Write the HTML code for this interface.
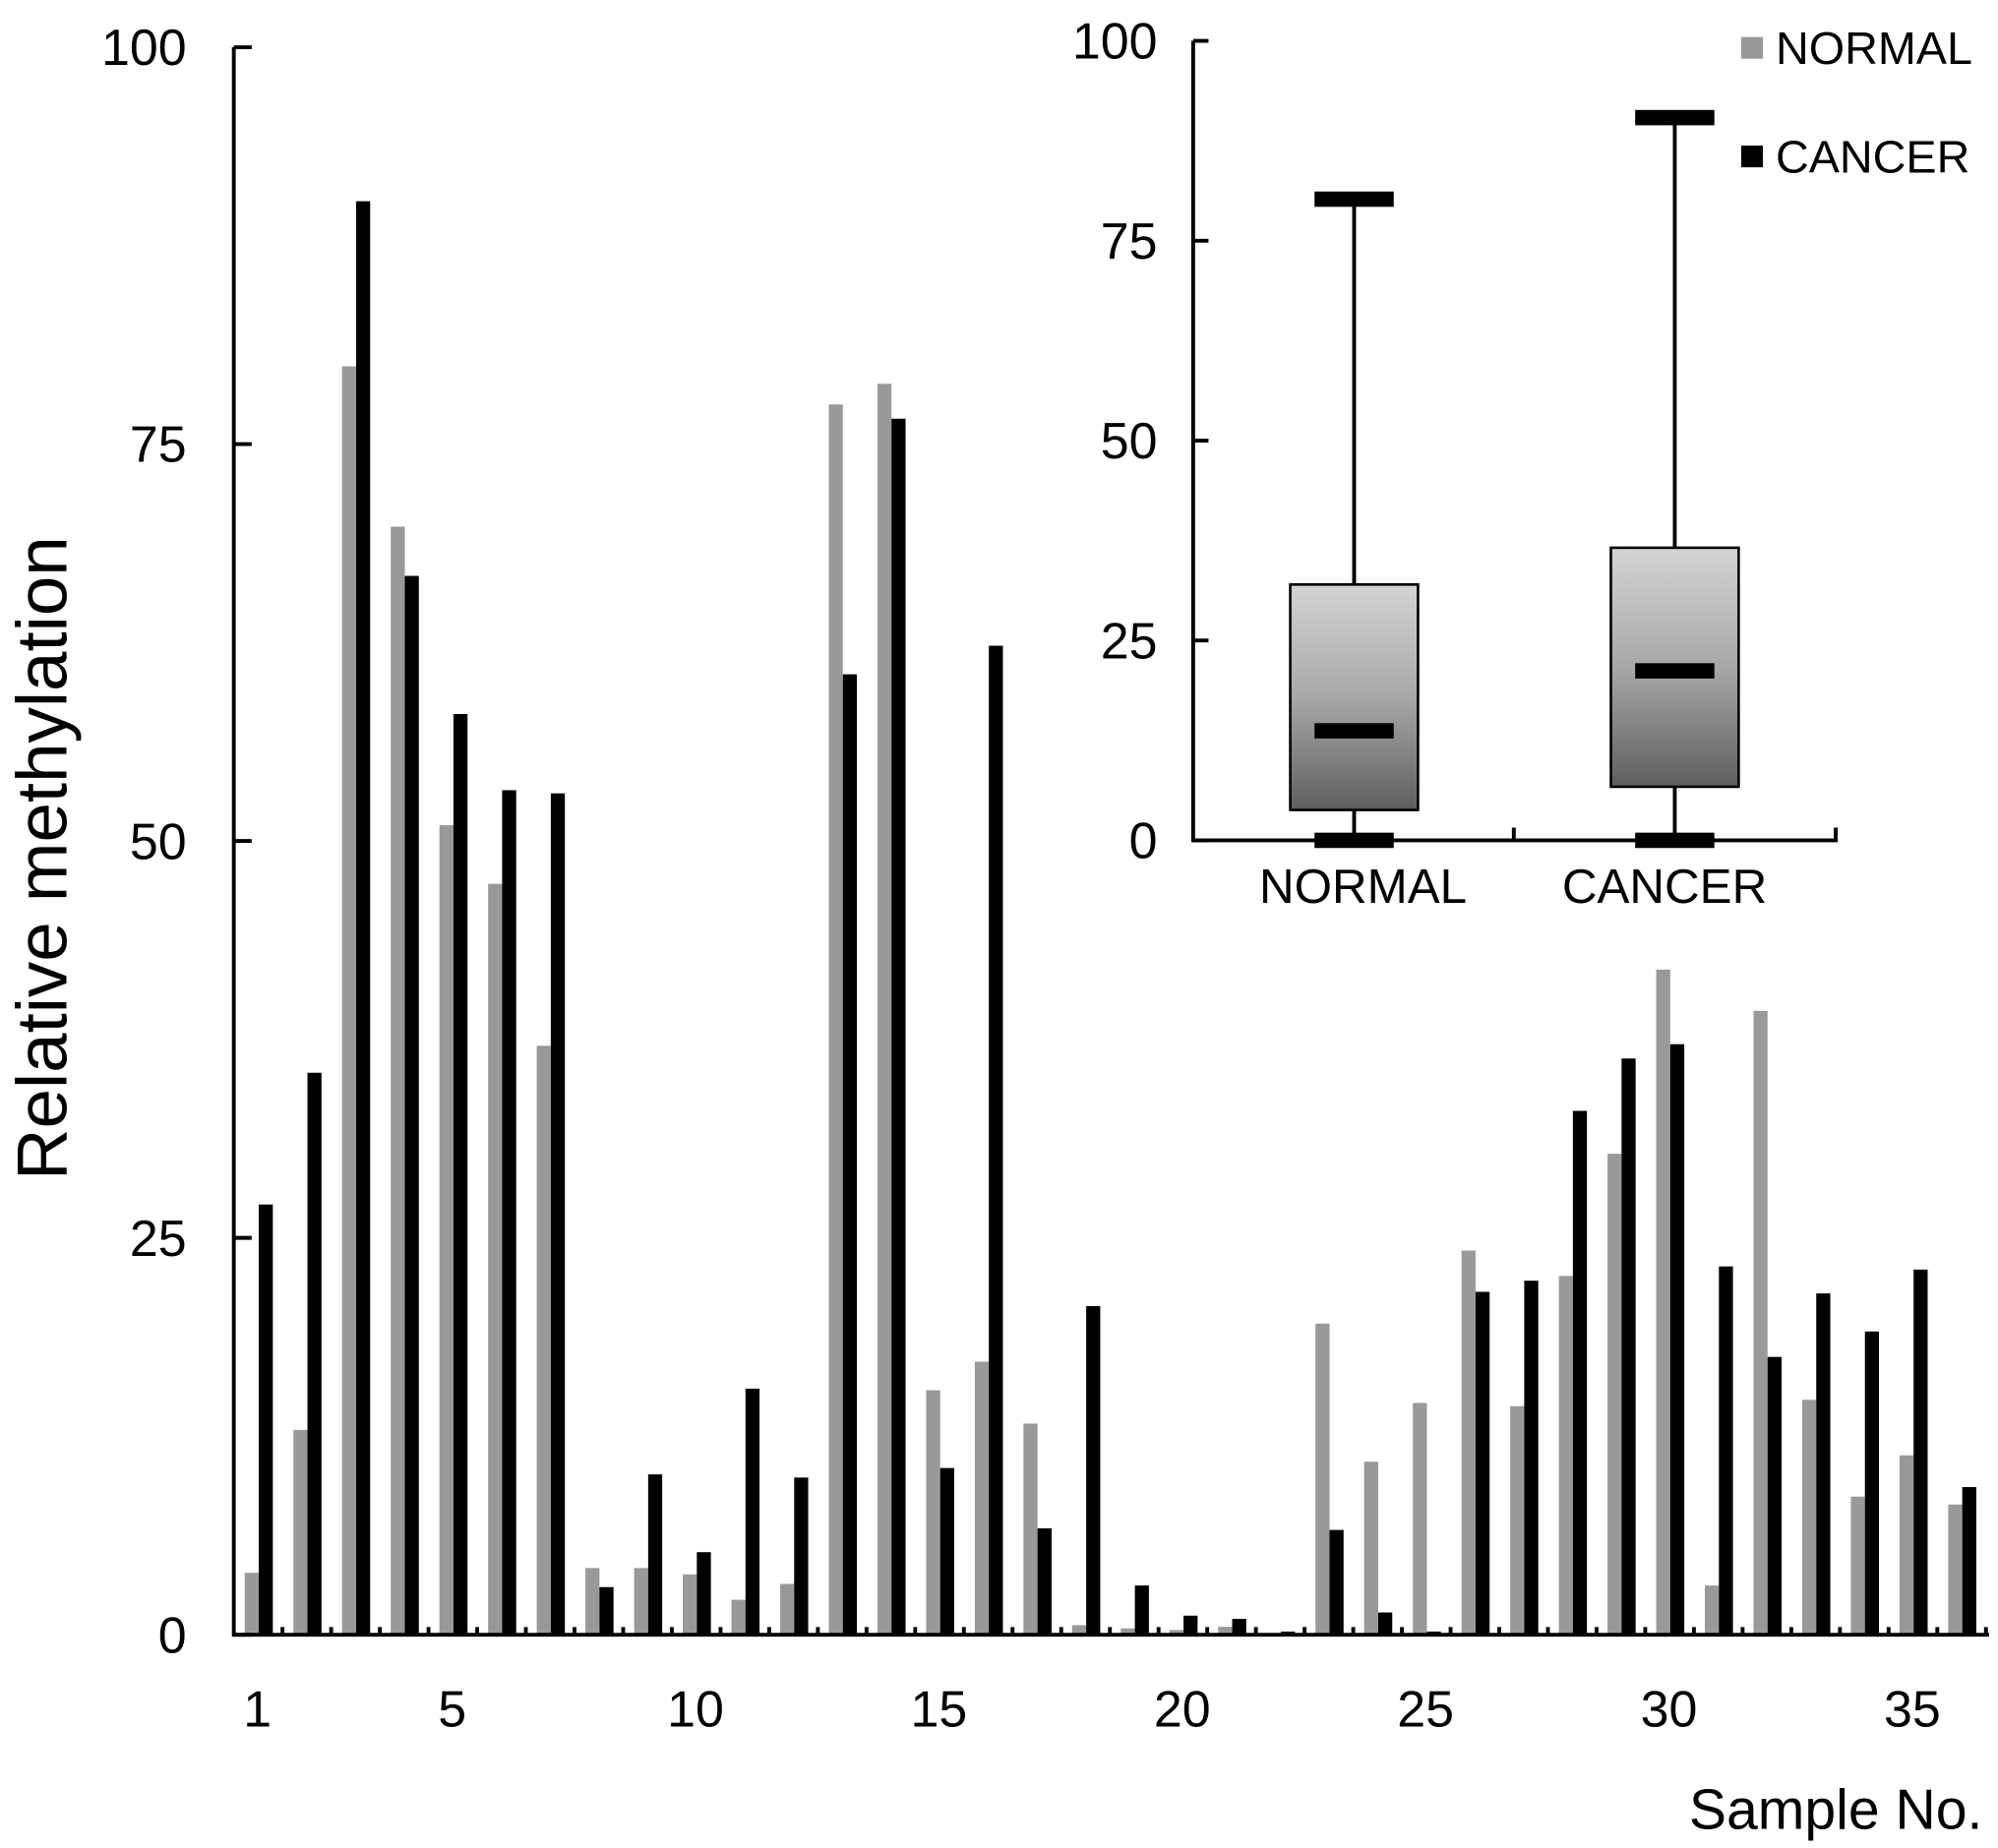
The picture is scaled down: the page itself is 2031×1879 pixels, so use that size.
<!DOCTYPE html>
<html><head><meta charset="utf-8"><style>html,body{margin:0;padding:0;background:#fff}svg{display:block}text{font-family:"Liberation Sans",Arial,sans-serif}</style></head>
<body>
<svg id="chart" width="2031" height="1879" viewBox="0 0 1564 1447" xmlns="http://www.w3.org/2000/svg">
<defs><linearGradient id="boxg" x1="0" y1="0" x2="0" y2="1"><stop offset="0" stop-color="#d4d4d4"/><stop offset="0.5" stop-color="#a8a8a8"/><stop offset="1" stop-color="#5e5e5e"/></linearGradient></defs>
<g id="main"></g>
<g id="inset"></g>
</svg>
<script>
const samples = [1,2,3,4,5,6,7,8,9,10,11,12,13,14,15,16,17,18,19,20,21,22,23,24,25,26,27,28,29,30,31,32,33,34,35,36];
const normalVals = [3.9,12.9,79.9,69.8,51.0,47.3,37.1,4.2,4.2,3.8,2.2,3.2,77.5,78.8,15.4,17.2,13.3,0.6,0.4,0.3,0.5,0,19.6,10.9,14.6,24.2,14.4,22.6,30.3,41.9,3.1,39.3,14.8,8.7,11.3,8.2];
const cancerVals = [27.1,35.4,90.3,66.7,58.0,53.2,53.0,3.0,10.1,5.2,15.5,9.9,60.5,76.6,10.5,62.3,6.7,20.7,3.1,1.2,1.0,0.2,6.6,1.4,0.2,21.6,22.3,33.0,36.3,37.2,23.2,17.5,21.5,19.1,23.0,9.3];
const yTicks = [0,25,50,75,100];
const xTickLabels = [1,5,10,15,20,25,30,35];
const boxGroups = ["NORMAL","CANCER"];
const boxMin = [0,0];
const boxQ1 = [3.8,6.7];
const boxMedian = [13.7,21.2];
const boxQ3 = [32.0,36.6];
const boxMax = [80.2,90.4];
const insetTicks = [0,25,50,75,100];

const NS="http://www.w3.org/2000/svg";
function mk(tag, attrs, parent, txt){const e=document.createElementNS(NS,tag);for(const k in attrs)e.setAttribute(k,attrs[k]);if(txt!==undefined)e.textContent=txt;parent.appendChild(e);return e;}
const main=document.getElementById('main');
const X0=183, X1=1557, Y0=1280, Y100=37, STEP=38.1;
const y=v=>Y0-(Y0-Y100)*v/100;
const xc=i=>X0+(i-0.5)*STEP+0.5;
const BW=11;
samples.forEach((s,i)=>{
  let r=mk('rect',{x:xc(s)-BW,y:y(normalVals[i]),width:BW,height:Y0-y(normalVals[i]),fill:'#999'},main);
  
  
  r=mk('rect',{x:xc(s),y:y(cancerVals[i]),width:BW,height:Y0-y(cancerVals[i]),fill:'#000'},main);
  
  
});
let ax=mk('path',{d:`M${X0} ${Y100} V${Y0} H${X1}`,stroke:'#000','stroke-width':3,fill:'none'},main);


yTicks.forEach(t=>{
  mk('line',{x1:X0,x2:X0+14,y1:y(t),y2:y(t),stroke:'#000','stroke-width':3},main);
  const tx=mk('text',{x:146,y:y(t)+14,'text-anchor':'end','font-size':40},main,t);
  
  
});
for(let i=1;i<=samples.length;i++){mk('line',{x1:X0+i*STEP,x2:X0+i*STEP,y1:Y0,y2:Y0-6,stroke:'#000','stroke-width':3},main);}
xTickLabels.forEach(t=>{
  const tx=mk('text',{x:xc(t)-1,y:1352,'text-anchor':'middle','font-size':40},main,t);
  
  
});
let yt=mk('text',{x:0,y:0,transform:'translate(52,672) rotate(-90)','text-anchor':'middle','font-size':56},main,'Relative methylation');


let xt=mk('text',{x:1552,y:1432,'text-anchor':'end','font-size':44},main,'Sample No.');



// inset
const ins=document.getElementById('inset');
const IX0=934, IX1=1437, IY0=658, IY100=32;
const iy=v=>IY0-(IY0-IY100)*v/100;
const bc=[1060,1311];
const labelX=[1067,1303];
boxGroups.forEach((g,i)=>{
  const c=bc[i];
  mk('line',{x1:c,x2:c,y1:iy(boxMax[i]),y2:iy(boxMin[i]),stroke:'#000','stroke-width':3},ins);
  const b=mk('rect',{x:c-50,y:iy(boxQ3[i]),width:100,height:iy(boxQ1[i])-iy(boxQ3[i]),fill:'url(#boxg)',stroke:'#000','stroke-width':2},ins);
  
  
  [boxMax[i],boxMin[i],boxMedian[i]].forEach(v=>{mk('rect',{x:c-31,y:iy(v)-6,width:62,height:12,fill:'#000'},ins);});
  const t=mk('text',{x:labelX[i],y:707,'text-anchor':'middle','font-size':38},ins,g);
  
  
});
let iax=mk('path',{d:`M${IX0} ${IY100} V${IY0} H${IX1} v-10 M1185 ${IY0} v-10`,stroke:'#000','stroke-width':3,fill:'none'},ins);


insetTicks.forEach(t=>{
  mk('line',{x1:IX0,x2:IX0+12,y1:iy(t),y2:iy(t),stroke:'#000','stroke-width':3},ins);
  const tx=mk('text',{x:906,y:iy(t)+14,'text-anchor':'end','font-size':40},ins,t);
  
  
});
// legend
const lg=mk('g',{},ins);


mk('rect',{x:1363,y:29,width:17,height:17,fill:'#999'},lg);
mk('text',{x:1390,y:50,'font-size':36},lg,'NORMAL');
mk('rect',{x:1363,y:114,width:17,height:17,fill:'#000'},lg);
mk('text',{x:1390,y:135,'font-size':36},lg,'CANCER');
</script>
</body></html>
